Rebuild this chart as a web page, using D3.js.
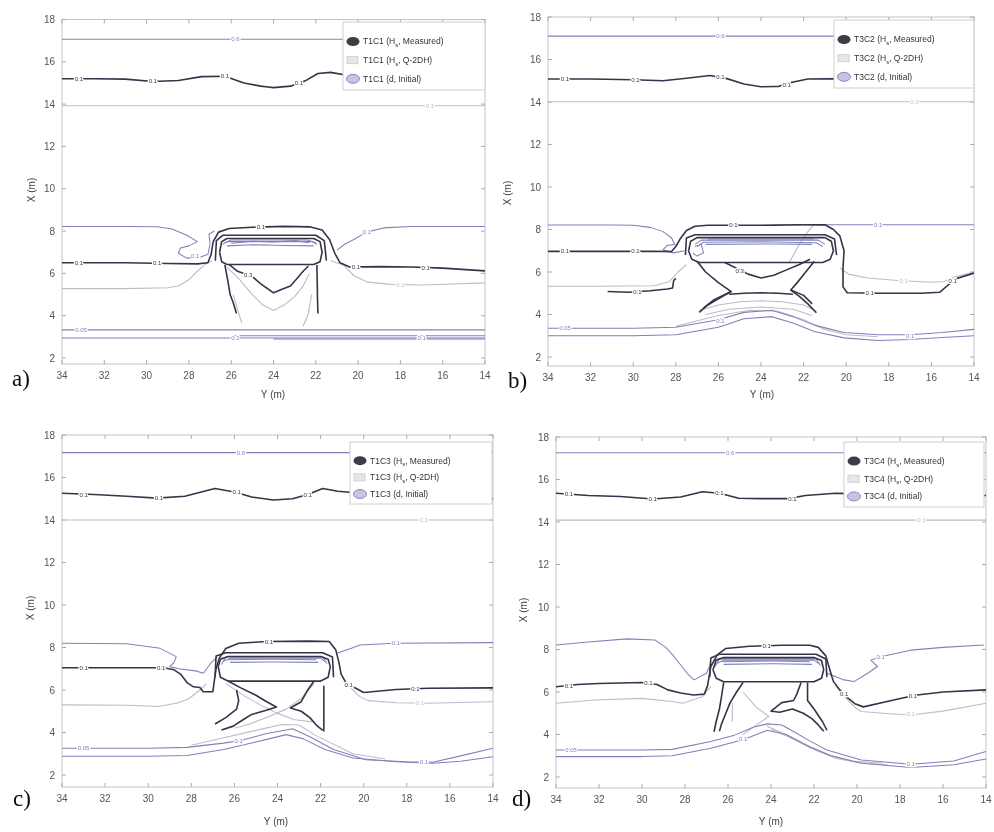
<!DOCTYPE html>
<html><head><meta charset="utf-8">
<script src="https://cdn.jsdelivr.net/npm/d3@7"></script>
<style>body{margin:0;background:#fff}</style>
</head><body><svg id="c" width="994" height="832"></svg>
<script>
// ---------- tick labels / categories ----------
const yTicks = [2,4,6,8,10,12,14,16,18];
const xTicks = [34,32,30,28,26,24,22,20,18,16,14];
const tests = ['T1C1','T3C2','T1C3','T3C4'];
const tags = ['a)','b)','c)','d)'];
const legendKinds = [['meas','Measured'],['q2dh','Q-2DH'],['init','Initial']];

// ---------- panel a : contour lines as [Y, X] ----------
const a_meas = [
 [[34,15.2],[32.5,15.2],[31,15.18],[29.7,15.07],[28.5,15.12],[27.4,15.3],[26.3,15.32],[25.4,15.0],[24.6,14.85],[24,14.78],[23.2,14.85],[22.5,15.1],[21.9,15.45],[21.3,15.5],[20.6,15.38],[19.5,15.3],[18,15.2],[16,15.0],[14,14.85]],
 [[34,6.5],[31,6.5],[29,6.47],[27.6,6.45],[27.1,6.5],[26.95,6.9],[26.85,7.5],[26.6,7.95],[26.1,8.12],[25,8.18],[23.5,8.22],[22.3,8.2],[21.7,8.05],[21.35,7.6],[21.1,6.95],[20.85,6.5],[20.4,6.3],[19,6.32],[17.5,6.3],[16,6.25],[14,6.12]],
 [[26.55,7.0],[26.45,7.5],[26.2,7.65],[22.1,7.65],[21.8,7.5],[21.7,7.0],[21.8,6.55],[22.1,6.42],[26.2,6.42],[26.45,6.55],[26.55,7.0]],
 [[26.75,6.6],[26.7,7.55],[26.4,7.8],[22.0,7.8],[21.6,7.55],[21.5,6.6]],
 [[26.1,6.42],[25.7,6.1],[25.0,5.85],[24.6,5.5],[24.0,5.08],[23.6,5.25],[23.2,5.4],[22.9,5.75],[22.6,6.1],[22.35,6.35]],
 [[26.3,6.4],[26.15,5.6],[26.05,5.0],[25.9,4.6],[25.75,4.1]],
 [[21.95,6.4],[21.93,5.5],[21.92,4.8],[21.9,4.1]]
];
const a_q2dh = [
 [[34,13.92],[14,13.92]],
 [[34,5.28],[31,5.28],[29,5.32],[28.5,5.4],[28.0,5.7],[27.6,6.1],[27.2,6.45],[26.9,6.6]],
 [[21.3,6.6],[20.7,6.4],[20.2,5.9],[19.6,5.6],[18.5,5.48],[17,5.45],[15.5,5.5],[14,5.55]],
 [[26.2,6.3],[25.6,5.7],[25.0,5.0],[24.5,4.5],[24.0,4.25],[23.5,4.5],[23.0,4.9],[22.6,5.4],[22.3,6.0]],
 [[25.9,5.0],[25.7,4.3],[25.5,3.65]],
 [[22.2,5.0],[22.35,4.1],[22.6,3.5]]
];
const a_init = [
 [[34,17.07],[14,17.07]],
 [[34,8.22],[31,8.22],[29.5,8.2],[28.8,8.1],[28.1,7.8],[27.6,7.5],[28.0,7.3],[28.4,7.2],[28.5,6.95],[28.1,6.72],[27.5,6.75],[27.1,6.9],[27.0,7.4],[27.05,7.85],[26.8,8.0]],
 [[21.0,7.1],[20.6,7.4],[20.2,7.6],[19.6,7.95],[18.8,8.15],[17.5,8.22],[14,8.22]],
 [[26.4,7.38],[26.2,7.5],[22.2,7.5],[21.95,7.38]],
 [[26.3,7.45],[26.0,7.58],[22.4,7.58],[22.0,7.45]],
 [[26.0,7.42],[25.0,7.52],[24.0,7.48],[23.0,7.55],[22.3,7.45]],
 [[26.2,7.3],[25,7.35],[23.5,7.32],[22.1,7.3]],
 [[34,3.33],[14,3.33]],
 [[34,2.95],[14,2.95]],
 [[26,3.05],[20,3.05],[14,3.05]],
 [[24,2.9],[18,2.9],[14,2.9]]
];
const a_labels = [
 [25.8,17.07,'0.6','init'],[33.1,3.33,'0.05','init'],[25.8,2.95,'0.1','init'],[17,2.95,'0.1','init'],[27.7,6.8,'0.1','init'],[19.6,7.95,'0.1','init'],
 [33.2,15.2,'0.1','meas'],[29.7,15.07,'0.1','meas'],[26.3,15.32,'0.1','meas'],[22.8,15.0,'0.1','meas'],[33.2,6.5,'0.1','meas'],[29.5,6.47,'0.1','meas'],[24.6,8.2,'0.1','meas'],[20.1,6.3,'0.1','meas'],[16.8,6.27,'0.1','meas'],[25.2,5.9,'0.3','meas'],
 [16.6,13.92,'0.1','q2dh'],[18,5.47,'0.1','q2dh']
];

// ---------- panel b ----------
const b_meas = [
 [[34,15.08],[32,15.08],[30,15.05],[28.6,15.0],[27.5,15.12],[26.4,15.25],[25.6,15.1],[24.8,14.85],[24,14.72],[23.2,14.73],[22.6,14.92],[21.8,15.08],[20,15.1],[17,15.05],[14,14.97]],
 [[34,6.97],[31,6.97],[29,6.98],[28.2,6.96],[28.0,7.2],[27.8,7.55],[27.5,7.95],[27.1,8.15],[26.5,8.2],[24,8.2],[22,8.22],[21,8.22],[20.6,8.0],[20.3,7.7],[20.1,7.0],[20.15,6.2],[20.15,5.3],[19.95,5.02],[18.5,5.0],[16.5,5.0],[15.6,5.05],[15.2,5.4],[14.8,5.7],[14.0,5.95]],
 [[31.2,5.08],[30.2,5.05],[29.2,5.12],[28.4,5.2],[28.15,5.25],[28.1,5.6],[28.0,5.7]],
 [[27.4,7.0],[27.3,7.45],[27.0,7.62],[21.0,7.62],[20.7,7.45],[20.6,7.0],[20.75,6.6],[21.1,6.45],[26.9,6.45],[27.25,6.6],[27.4,7.0]],
 [[27.55,6.8],[27.5,7.6],[27.1,7.75],[21.0,7.75],[20.55,7.55],[20.45,6.8]],
 [[25.7,6.45],[25.2,6.2],[24.6,5.9],[24.0,5.72],[23.4,5.85],[22.8,6.1],[22.2,6.35],[21.7,6.6]],
 [[27.0,6.5],[26.6,6.0],[26.0,5.5],[25.4,5.08],[25.9,4.8],[26.5,4.45],[26.9,4.1]],
 [[25.4,5.08],[26.2,4.7],[26.7,4.3]],
 [[21.5,6.5],[21.9,6.0],[22.3,5.5],[22.6,5.15],[22.2,4.85],[21.8,4.5],[21.4,4.08]],
 [[22.6,5.15],[22.0,4.9],[21.6,4.5]],
 [[25.5,4.95],[24.8,5.0],[24,5.02],[23.2,5.0],[22.5,4.95]]
];
const b_q2dh = [
 [[34,14.01],[14,14.01]],
 [[34,5.33],[31.5,5.33],[29,5.35],[28.3,5.55],[27.9,6.0],[27.5,6.35]],
 [[20.3,6.2],[19.9,5.9],[19.0,5.72],[17.6,5.6],[16,5.52],[15.4,5.55],[14.9,5.78],[14.0,6.0]],
 [[26.9,4.2],[26,4.45],[25,4.6],[24,4.65],[23,4.6],[22,4.45],[21.4,4.15]],
 [[26.6,4.0],[25.5,4.25],[24,4.35],[22.5,4.25],[21.6,3.95]],
 [[22.7,6.4],[22.2,7.3],[21.8,7.9],[21.5,8.25]],
 [[28,3.45],[26,3.95],[24.5,4.2],[23.2,4.15],[22,3.75],[21,3.3],[20,3.05],[18.5,2.95]]
];
const b_init = [
 [[34,17.1],[14,17.1]],
 [[34,8.21],[31,8.21],[30,8.2],[29.2,8.1],[28.6,7.9],[28.2,7.6],[28.05,7.3],[28.4,7.25],[28.6,7.05],[28.1,6.9],[27.6,7.0]],
 [[22.5,8.22],[20,8.22],[18.5,8.22],[14,8.22]],
 [[27.1,7.3],[26.8,7.5],[21.3,7.5],[21.0,7.3]],
 [[27.0,7.2],[26.7,7.4],[24,7.42],[21.4,7.38],[21.1,7.2]],
 [[26.5,7.55],[21.5,7.55]],
 [[26.6,7.3],[24,7.32],[21.6,7.3]],
 [[27.2,6.9],[27.0,6.75],[26.7,6.9],[26.8,7.3],[27.1,7.2]],
 [[34,3.35],[30,3.35],[28,3.4],[26,3.75],[24.8,4.1],[23.5,4.2],[22.5,3.9],[21.5,3.5],[20.1,3.15],[18.5,3.05],[17,3.05],[15.5,3.15],[14,3.3]],
 [[34,3.0],[30,3.0],[28,3.05],[26,3.4],[24.8,3.8],[23.5,3.9],[22.5,3.6],[21.5,3.2],[20.1,2.9],[18.5,2.78],[17,2.82],[15.5,2.92],[14,3.0]]
];
const b_labels = [
 [25.9,17.1,'0.6','init'],[33.2,3.35,'0.05','init'],[25.9,3.7,'0.1','init'],[17,3.0,'0.1','init'],[18.5,8.22,'0.1','init'],
 [33.2,15.08,'0.1','meas'],[29.9,15.05,'0.1','meas'],[25.9,15.2,'0.1','meas'],[22.8,14.8,'0.1','meas'],[33.2,6.97,'0.1','meas'],[29.9,6.98,'0.1','meas'],[25.3,8.2,'0.1','meas'],[18.9,5.0,'0.1','meas'],[15.0,5.6,'0.1','meas'],[25.0,6.05,'0.3','meas'],[29.8,5.07,'0.1','meas'],
 [16.8,14.01,'0.1','q2dh'],[17.3,5.58,'0.1','q2dh']
];

// ---------- panel c ----------
const c_meas = [
 [[34,15.26],[32.5,15.2],[31,15.12],[29.6,15.03],[28.3,15.12],[27.4,15.35],[26.9,15.48],[26,15.32],[25.2,15.08],[24.2,14.94],[23.3,15.0],[22.6,15.2],[21.9,15.48],[21.2,15.35],[20,15.25],[17,15.1],[14,15.0]],
 [[34,7.05],[31,7.05],[29.3,7.05],[28.8,6.95],[28.5,6.75],[28.2,6.35],[27.9,6.15],[27.6,6.12],[27.45,5.92],[27.0,5.92],[26.95,6.3],[26.85,7.0],[26.7,7.5],[26.4,7.95],[25.8,8.2],[24.5,8.28],[22.5,8.3],[21.6,8.28],[21.3,7.9],[21.15,7.3],[21.05,6.75],[20.8,6.3],[20.3,6.05],[20.0,5.88],[18.5,6.02],[17,6.08],[14,6.1]],
 [[26.75,7.1],[26.65,7.45],[26.3,7.58],[22.0,7.58],[21.65,7.45],[21.55,7.1],[21.65,6.6],[22.0,6.42],[26.3,6.42],[26.65,6.6],[26.75,7.1]],
 [[26.9,6.6],[26.85,7.6],[26.4,7.75],[21.9,7.75],[21.45,7.55],[21.4,6.6]],
 [[26.3,6.42],[25.7,6.1],[25.0,5.75],[24.5,5.45],[24.05,5.2],[24.6,5.02],[25.2,4.85],[25.6,4.6],[26.05,4.3],[26.6,4.12]],
 [[25.9,6.0],[25.8,5.5],[25.9,5.1],[26.4,4.7],[26.9,4.4]],
 [[22.3,6.42],[22.6,6.0],[22.9,5.45],[23.4,5.15],[22.9,5.0],[22.5,4.7],[22.2,4.35],[21.9,4.1]],
 [[21.85,6.2],[21.85,5.0],[21.85,4.05]]
];
const c_q2dh = [
 [[34,14.0],[14,14.0]],
 [[34,5.3],[31,5.28],[29.5,5.22],[28.6,5.4],[28.1,5.6],[27.6,6.0],[27.3,6.3]],
 [[20.7,6.2],[20.2,5.7],[19.8,5.5],[18.5,5.4],[17,5.38],[14,5.45]],
 [[26.4,6.3],[25.5,5.7],[24.8,5.3],[24.0,4.9],[23.2,4.6],[22.4,4.5]],
 [[22.3,6.3],[22.9,5.6],[23.6,5.1],[24.4,4.75],[25.3,4.4],[26.0,4.2]],
 [[28,3.4],[26.5,3.75],[25,4.1],[23.8,4.38],[23,4.35],[22.3,3.9],[21.5,3.5],[20.5,3.0],[19,2.75]]
];
const c_init = [
 [[34,17.17],[14,17.17]],
 [[34,8.2],[31,8.18],[29.45,7.96],[28.7,7.57],[28.8,7.3],[29.0,7.1],[28.6,7.0],[27.8,6.9],[27.44,6.79],[27.1,7.26],[26.8,7.55]],
 [[21.25,7.73],[20.6,7.95],[20.17,8.12],[18.6,8.2],[14,8.23]],
 [[26.5,7.35],[26.2,7.5],[22.0,7.5],[21.8,7.35]],
 [[26.3,7.42],[24,7.45],[22.2,7.42]],
 [[26.6,7.2],[26.4,7.55],[21.9,7.55],[21.7,7.25]],
 [[26.2,7.3],[24,7.32],[22.1,7.3]],
 [[34,3.26],[30,3.26],[28.2,3.3],[26.5,3.5],[25.7,3.62],[24.5,3.95],[23.6,4.12],[23.3,4.18],[22.5,3.8],[21.4,3.2],[19.9,2.72],[18,2.62],[16.8,2.6],[15.5,2.9],[14,3.26]],
 [[34,2.88],[30,2.88],[28.2,2.92],[26.5,3.2],[25,3.55],[23.6,3.9],[22.8,3.7],[21.8,3.2],[20.5,2.8],[18.5,2.62],[16.8,2.55],[15.5,2.65],[14,2.86]]
];
const c_labels = [
 [25.7,17.17,'0.6','init'],[33.0,3.26,'0.05','init'],[25.8,3.62,'0.1','init'],[17.2,2.6,'0.1','init'],[18.5,8.2,'0.1','init'],
 [33,15.2,'0.1','meas'],[29.5,15.03,'0.1','meas'],[25.9,15.3,'0.1','meas'],[22.6,15.2,'0.1','meas'],[33,7.05,'0.1','meas'],[29.4,7.05,'0.1','meas'],[24.4,8.28,'0.1','meas'],[20.7,6.25,'0.1','meas'],[17.6,6.06,'0.1','meas'],
 [17.2,14.0,'0.1','q2dh'],[17.4,5.38,'0.1','q2dh']
];

// ---------- panel d ----------
const d_meas = [
 [[34,15.35],[32.5,15.25],[31,15.2],[29.5,15.08],[28.2,15.18],[27.2,15.42],[26.4,15.35],[25.5,15.12],[24.5,15.1],[23.2,15.1],[22.4,15.25],[21,15.35],[18,15.3],[14,15.25]],
 [[34,6.25],[33,6.35],[32,6.4],[30,6.45],[29.3,6.35],[28.8,6.1],[28.2,5.95],[27.6,5.86],[27.1,5.9],[26.95,6.3],[26.8,7.2],[26.5,7.75],[26.1,8.05],[25,8.15],[23.5,8.2],[22.2,8.2],[21.8,8.1],[21.45,7.7],[21.25,7.0],[21.1,6.5],[20.8,6.1],[20.4,5.7],[20.1,5.45],[19.7,5.3],[18.6,5.55],[17.3,5.85],[16,6.0],[14,6.1]],
 [[26.7,7.05],[26.55,7.5],[26.2,7.62],[22.0,7.62],[21.65,7.48],[21.55,7.05],[21.65,6.65],[22.0,6.48],[26.2,6.48],[26.55,6.65],[26.7,7.05]],
 [[26.85,6.7],[26.8,7.6],[26.4,7.78],[21.9,7.78],[21.45,7.55],[21.4,6.7]],
 [[26.2,6.45],[26.3,5.8],[26.4,5.2],[26.55,4.6],[26.65,4.13]],
 [[25.3,6.45],[25.6,6.0],[25.9,5.5],[26.1,5.0],[26.3,4.5],[26.4,4.15]],
 [[22.6,6.45],[22.8,5.9],[22.95,5.6],[23.5,5.5],[24.0,5.1],[23.6,5.05],[23.0,5.2],[22.5,5.0],[22.1,4.75],[21.8,4.45],[21.55,4.15]],
 [[22.3,6.45],[22.3,5.6],[22.0,5.2],[21.6,4.6],[21.4,4.2]]
];
const d_q2dh = [
 [[34,14.09],[14,14.09]],
 [[34,5.47],[32.2,5.62],[30,5.7],[28.6,5.55],[28.1,5.47],[27.2,5.78],[26.8,6.25]],
 [[21.0,6.3],[20.6,5.78],[20.0,5.2],[19.8,5.08],[18.5,4.98],[17.5,4.92],[16,5.1],[14,5.47]],
 [[25.3,6.0],[24.7,5.3],[24.1,4.85],[24.6,4.5],[25.3,4.0]],
 [[25.8,5.5],[25.8,4.6]],
 [[24.2,4.4],[23.2,3.95],[22.2,3.45],[21.2,3.0],[20.2,2.75],[18.8,2.65]],
 [[24.0,4.25],[23.0,3.8],[22.0,3.3],[21.0,2.88],[20.0,2.68],[18.6,2.58]]
];
const d_init = [
 [[34,17.26],[14,17.26]],
 [[34,8.21],[32.5,8.35],[30.7,8.5],[29.4,8.45],[28.9,8.1],[28.5,7.66],[27.9,6.88],[27.58,6.57],[27.0,6.88],[26.8,7.35]],
 [[21.4,6.88],[20.6,6.57],[20.14,6.49],[19.5,6.88],[19.05,7.2],[19.36,7.5],[18.9,7.66],[17.5,7.97],[16,8.1],[14.1,8.21]],
 [[26.5,7.35],[26.2,7.5],[22.0,7.5],[21.8,7.35]],
 [[26.3,7.42],[24,7.46],[22.2,7.42]],
 [[26.6,7.2],[26.4,7.56],[21.9,7.56],[21.7,7.25]],
 [[26.2,7.3],[24,7.33],[22.1,7.3]],
 [[34,3.27],[30,3.27],[28.6,3.3],[26.8,3.67],[25.7,3.97],[24.8,4.35],[24.17,4.5],[23.5,4.45],[22.93,4.13],[22.2,3.7],[21.4,3.27],[19.8,2.8],[17.5,2.6],[15.5,2.75],[14,3.2]],
 [[34,2.96],[30,2.96],[28.6,3.0],[26.8,3.35],[25.3,3.75],[24.17,4.2],[23.3,4.0],[22.2,3.4],[21.2,3.0],[19.8,2.65],[17.5,2.45],[15.5,2.58],[14,2.85]]
];
const d_labels = [
 [25.9,17.26,'0.6','init'],[33.3,3.27,'0.05','init'],[25.3,3.8,'0.1','init'],[17.5,2.6,'0.1','init'],[18.9,7.66,'0.1','init'],
 [33.4,15.3,'0.1','meas'],[29.5,15.08,'0.1','meas'],[26.4,15.35,'0.1','meas'],[23.0,15.1,'0.1','meas'],[33.4,6.3,'0.1','meas'],[29.7,6.42,'0.1','meas'],[24.2,8.18,'0.1','meas'],[20.6,5.9,'0.1','meas'],[17.4,5.8,'0.1','meas'],
 [17.0,14.09,'0.1','q2dh'],[17.5,4.95,'0.1','q2dh']
];

// ---------- layout (pixels) ----------
const layout = [
 {x0:62, x1:485, y18:19.5, y2:358, yb:364, tag:[12,386], xl:[273,398], yl:[35,190], leg:[343,22,142,68]},
 {x0:548,x1:974, y18:17,   y2:357, yb:366, tag:[508,388], xl:[762,398], yl:[511,193], leg:[834,20,140,68]},
 {x0:62, x1:493, y18:435,  y2:775, yb:787, tag:[13,806], xl:[276,825], yl:[34,608], leg:[350,442,142,62]},
 {x0:556,x1:986, y18:437,  y2:777, yb:788, tag:[512,806], xl:[771,825], yl:[527,610], leg:[844,442,140,65]}
];
const style = {
 meas:{stroke:'#34344a', w:1.6},
 q2dh:{stroke:'#bcbcc6', w:1.1},
 init:{stroke:'#8080bc', w:1.05}
};
const data = [
 {meas:a_meas,q2dh:a_q2dh,init:a_init,labels:a_labels},
 {meas:b_meas,q2dh:b_q2dh,init:b_init,labels:b_labels},
 {meas:c_meas,q2dh:c_q2dh,init:c_init,labels:c_labels},
 {meas:d_meas,q2dh:d_q2dh,init:d_init,labels:d_labels}
];

const svg = d3.select('#c');
const defs = svg.append('defs');
defs.append('filter').attr('id','soft').append('feGaussianBlur').attr('stdDeviation',0.45);
const root = svg.append('g').attr('filter','url(#soft)');

data.forEach((D,i)=>{
  const L = layout[i];
  const x = d3.scaleLinear().domain([34,14]).range([L.x0,L.x1]);
  const y = d3.scaleLinear().domain([2,18]).range([L.y2,L.y18]);
  const g = root.append('g');
  const clipId = 'clip'+i;
  defs.append('clipPath').attr('id',clipId).append('rect')
    .attr('x',L.x0).attr('y',L.y18).attr('width',L.x1-L.x0).attr('height',L.yb-L.y18);

  g.append('rect').attr('x',L.x0).attr('y',L.y18).attr('width',L.x1-L.x0).attr('height',L.yb-L.y18)
   .attr('fill','none').attr('stroke','#c4c4c4').attr('stroke-width',1);
  yTicks.forEach(t=>{
    [[L.x0,4],[L.x1,-4]].forEach(([px,d])=>g.append('line').attr('x1',px).attr('x2',px+d)
      .attr('y1',y(t)).attr('y2',y(t)).attr('stroke','#aaa'));
    g.append('text').attr('x',L.x0-7).attr('y',y(t)+3.5).attr('text-anchor','end')
     .attr('font-family','Liberation Sans, Arial').attr('font-size',10).attr('fill','#555').text(t);
  });
  xTicks.forEach(t=>{
    [[L.yb,-4],[L.y18,4]].forEach(([py,d])=>g.append('line').attr('x1',x(t)).attr('x2',x(t))
      .attr('y1',py).attr('y2',py+d).attr('stroke','#aaa'));
    g.append('text').attr('x',x(t)).attr('y',L.yb+15).attr('text-anchor','middle')
     .attr('font-family','Liberation Sans, Arial').attr('font-size',10).attr('fill','#555').text(t);
  });
  g.append('text').attr('x',L.xl[0]).attr('y',L.xl[1]).attr('text-anchor','middle')
   .attr('font-family','Liberation Sans, Arial').attr('font-size',10).attr('fill','#444').text('Y (m)');
  g.append('text').attr('transform',`translate(${L.yl[0]},${L.yl[1]}) rotate(-90)`).attr('text-anchor','middle')
   .attr('font-family','Liberation Sans, Arial').attr('font-size',10).attr('fill','#444').text('X (m)');
  g.append('text').attr('x',L.tag[0]).attr('y',L.tag[1]).attr('font-family','Liberation Serif, Times New Roman')
   .attr('font-size',23).attr('fill','#111').text(tags[i]);

  const line = d3.line().x(d=>x(d[0])).y(d=>y(d[1])).curve(d3.curveLinear);
  const cg = g.append('g').attr('clip-path',`url(#${clipId})`);
  ['q2dh','init','meas'].forEach(k=>{
    cg.selectAll(null).data(D[k]).join('path').attr('d',line)
      .attr('fill','none').attr('stroke',style[k].stroke).attr('stroke-width',style[k].w)
      .attr('stroke-linejoin','round');
  });
  cg.selectAll(null).data(D.labels).join('text')
    .attr('x',d=>x(d[0])).attr('y',d=>y(d[1])+2)
    .attr('text-anchor','middle').attr('font-family','Liberation Sans, Arial').attr('font-size',6)
    .attr('fill',d=>style[d[3]].stroke).attr('stroke','#fff').attr('stroke-width',2.5)
    .attr('paint-order','stroke').text(d=>d[2]);

  const [lx,ly,lw,lh] = L.leg;
  const lg = g.append('g');
  lg.append('rect').attr('x',lx).attr('y',ly).attr('width',lw).attr('height',lh)
    .attr('fill','#fff').attr('stroke','#cfcfcf');
  const step = (lh-12)/3;
  legendKinds.forEach(([k,name],j)=>{
    const cy = ly+12+step*j+step*0.4;
    if(k==='meas'){
      lg.append('ellipse').attr('cx',lx+10).attr('cy',cy).attr('rx',6.5).attr('ry',4.5).attr('fill','#3c3c44');
    } else if(k==='q2dh'){
      lg.append('rect').attr('x',lx+4).attr('y',cy-3.5).attr('width',11).attr('height',7).attr('fill','#e6e6ea').attr('stroke','#d0d0d8');
    } else {
      lg.append('ellipse').attr('cx',lx+10).attr('cy',cy).attr('rx',6.5).attr('ry',4.5).attr('fill','#c4c4e4').attr('stroke','#8888c4');
    }
    const t = lg.append('text').attr('x',lx+20).attr('y',cy+3).attr('font-family','Liberation Sans, Arial')
      .attr('font-size',8.5).attr('fill','#333');
    if(k==='init'){ t.text(tests[i]+' (d, Initial)'); }
    else {
      t.append('tspan').text(tests[i]+' (H');
      t.append('tspan').attr('font-size',6).attr('dy',2.5).text('s');
      t.append('tspan').attr('dy',-2.5).text(', '+name+')');
    }
  });
});
</script></body></html>
